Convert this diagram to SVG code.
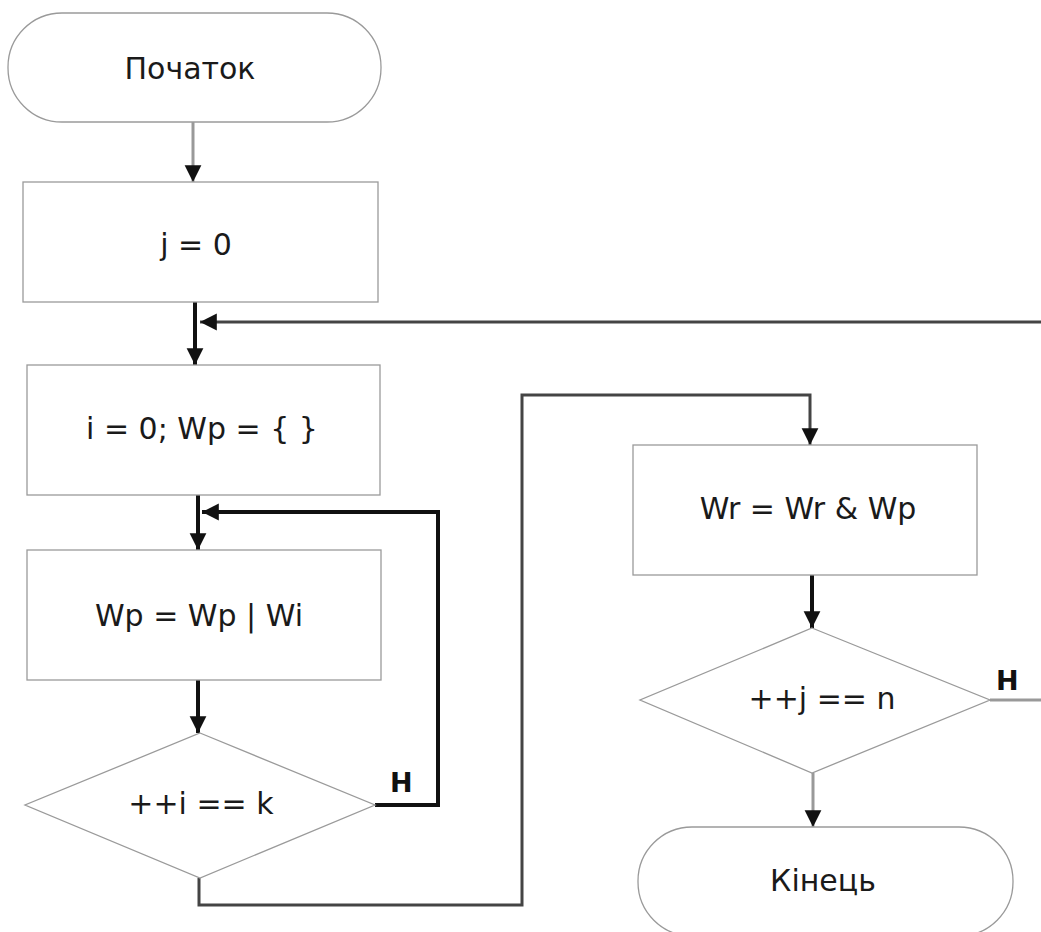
<svg xmlns="http://www.w3.org/2000/svg" width="1041" height="932" viewBox="0 0 1041 932">
  <style>
    .node { fill: #ffffff; stroke: #9a9a9a; stroke-width: 1.3; }
    .label { font-family: "DejaVu Sans", sans-serif; font-size: 30px; fill: #1a1a1a; text-anchor: middle; }
    .tag { font-family: "DejaVu Sans", sans-serif; font-size: 27px; font-weight: bold; fill: #111; }
    .edge { fill: none; stroke-linejoin: miter; }
    .dark { stroke: #111; stroke-width: 4; }
    .mid { stroke: #444; stroke-width: 3; }
    .light { stroke: #999; stroke-width: 3; }
  </style>
  <defs>
    <marker id="arrow" viewBox="0 0 10 10" refX="10" refY="5" markerWidth="4.2" markerHeight="4.5" orient="auto" markerUnits="strokeWidth">
      <path d="M0,0 L10,5 L0,10 z" fill="#111"/>
    </marker>
    <marker id="arrowThin" viewBox="0 0 10 10" refX="10" refY="5" markerWidth="5.6" markerHeight="6" orient="auto" markerUnits="strokeWidth">
      <path d="M0,0 L10,5 L0,10 z" fill="#111"/>
    </marker>
  </defs>

  <rect width="1041" height="932" fill="#ffffff"/>

  <!-- connectors -->
  <g id="connectors">
    <path class="edge light" d="M193,122 V182" marker-end="url(#arrowThin)"/>
    <path class="edge dark" d="M195,302 V365" marker-end="url(#arrow)"/>
    <path class="edge mid" d="M1041,322 H200" marker-end="url(#arrowThin)"/>
    <path class="edge dark" d="M198,495 V550" marker-end="url(#arrow)"/>
    <path class="edge dark" d="M375,805 H438 V512 H202" stroke-width="5" marker-end="url(#arrow)"/>
    <path class="edge dark" d="M198,680 V733" marker-end="url(#arrow)"/>
    <path class="edge mid" d="M199,878 V905 H522 V395 H810 V445" marker-end="url(#arrowThin)"/>
    <path class="edge dark" d="M812,575 V628" marker-end="url(#arrow)"/>
    <path class="edge light" d="M990,700 H1041"/>
    <path class="edge light" d="M813,773 V827" marker-end="url(#arrowThin)"/>
    <text class="tag" x="390" y="792">Н</text>
    <text class="tag" x="996" y="690">Н</text>
  </g>

  <!-- nodes -->
  <g id="start">
    <rect class="node" x="8" y="13" width="373" height="109" rx="54" ry="54"/>
    <text class="label" x="190" y="79">Початок</text>
  </g>
  <g id="init-j">
    <rect class="node" x="23" y="182" width="355" height="120"/>
    <text class="label" x="196" y="255">j = 0</text>
  </g>
  <g id="init-i">
    <rect class="node" x="27" y="365" width="353" height="130"/>
    <text class="label" x="202" y="439">i = 0; Wp = { }</text>
  </g>
  <g id="or-step">
    <rect class="node" x="27" y="550" width="354" height="130"/>
    <text class="label" x="199" y="626">Wp = Wp | Wi</text>
  </g>
  <g id="check-i">
    <polygon class="node" points="200,733 375,805 200,878 25,805"/>
    <text class="label" x="201" y="814">++i == k</text>
  </g>
  <g id="and-step">
    <rect class="node" x="633" y="445" width="344" height="130"/>
    <text class="label" x="808" y="519">Wr = Wr &amp; Wp</text>
  </g>
  <g id="check-j">
    <polygon class="node" points="812,628 990,700 812,773 640,700"/>
    <text class="label" x="822" y="709">++j == n</text>
  </g>
  <g id="end">
    <rect class="node" x="638" y="827" width="375" height="109" rx="54" ry="54"/>
    <text class="label" x="823" y="891">Кінець</text>
  </g>
</svg>
